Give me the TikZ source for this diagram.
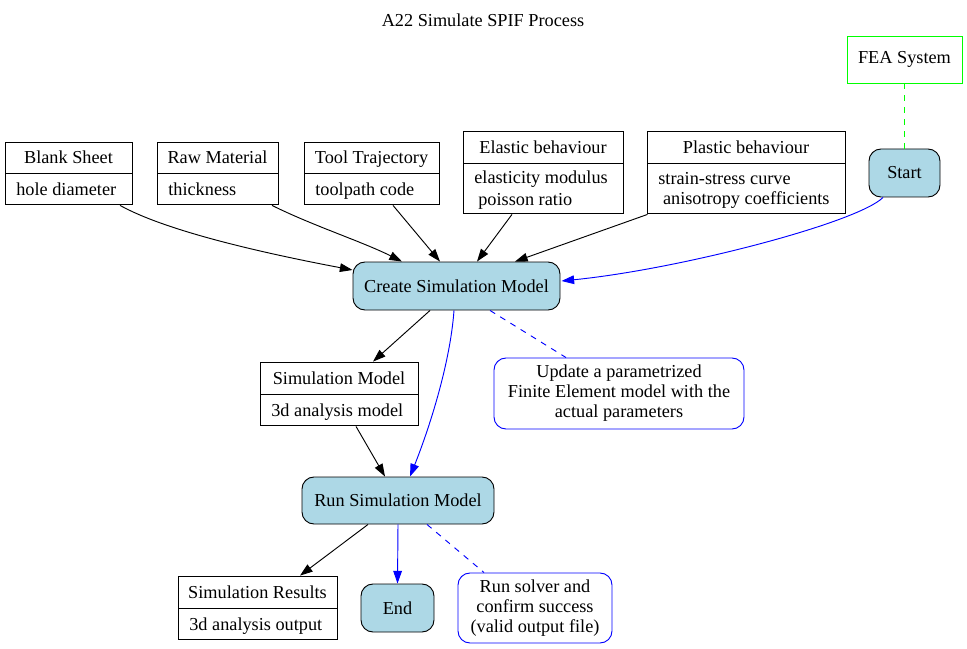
\documentclass[tikz,border=0pt]{standalone}
\usepackage{fontspec}
\setmainfont{Liberation Serif}
\usetikzlibrary{shapes.multipart,arrows.meta,calc}
\definecolor{lightblue}{RGB}{173,216,230}
\definecolor{feagreen}{RGB}{0,255,0}
\newcommand{\capstrut}{\rule[-2.9pt]{0pt}{15pt}}
\newcommand{\rechead}[3]{\parbox[c][#2][c]{#1}{\centering\capstrut #3}}
\newcommand{\recbody}[3]{\parbox[c][#2][c]{#1}{\leftskip=8.5pt\rightskip=0pt plus 1fil\parindent=0pt #3}}
\tikzset{
  proc/.style={draw, fill=lightblue, rounded corners=9pt, inner sep=0pt},
  rec/.style={draw, rectangle split, rectangle split parts=2, inner sep=0pt},
  note/.style={draw=blue, rounded corners=9pt, align=center, inner sep=0pt},
  flow/.style={-{Triangle[length=9.5pt,width=6.5pt]}},
  bflow/.style={flow, blue},
  link/.style={blue, dash pattern=on 4.5pt off 4.5pt}
}
\begin{document}
\begin{tikzpicture}[x=0.75pt,y=-0.75pt,line width=0.7pt,font=\fontsize{13.7}{15}\selectfont]
\useasboundingbox (0,0) rectangle (967,649);
\node (title) at (483,20) {A22 Simulate SPIF Process};

\node[draw=feagreen, minimum width=86.25pt, minimum height=35.25pt, inner sep=0pt] (fea) at (904.5,59.5) {FEA System};
\node[proc, minimum width=53.25pt, minimum height=36pt] (start) at (904.5,173) {Start};

\node[rec] (blank) at (68.5,173.5) {\rechead{95.25pt}{22.5pt}{Blank Sheet}\nodepart{two}\recbody{95.25pt}{23.25pt}{\capstrut hole diameter}};
\node[rec] (raw) at (217.5,173.5) {\rechead{90.75pt}{22.5pt}{Raw Material}\nodepart{two}\recbody{90.75pt}{23.25pt}{\capstrut thickness}};
\node[rec] (tool) at (371.5,173.5) {\rechead{101.25pt}{22.5pt}{Tool Trajectory}\nodepart{two}\recbody{101.25pt}{23.25pt}{\capstrut toolpath code}};
\node[rec] (elastic) at (543,172.5) {\rechead{120pt}{23.25pt}{Elastic behaviour}\nodepart{two}\recbody{120pt}{37.5pt}{\capstrut elasticity modulus\\\hspace*{3pt}\capstrut poisson ratio}};
\node[rec] (plastic) at (746,172.5) {\rechead{148.5pt}{23.25pt}{Plastic behaviour}\nodepart{two}\recbody{148.5pt}{37.5pt}{\capstrut strain-stress curve\\\hspace*{3.5pt}\capstrut anisotropy coefficients}};

\node[proc, minimum width=155.25pt, minimum height=36pt] (create) at (456.5,286) {Create Simulation Model};
\node[note, minimum width=187.5pt, minimum height=53.25pt] (update) at (619,393.5) {Update a parametrized\\Finite Element model with the\\actual parameters};
\node[rec] (simmodel) at (339,394) {\rechead{118.5pt}{23.25pt}{Simulation Model}\nodepart{two}\recbody{118.5pt}{23.25pt}{\capstrut 3d analysis model}};

\node[proc, minimum width=144pt, minimum height=35.25pt] (run) at (398,500.5) {Run Simulation Model};
\node[rec] (simres) at (257.5,608) {\rechead{119.25pt}{23.25pt}{Simulation Results}\nodepart{two}\recbody{119.25pt}{23.25pt}{\capstrut 3d analysis output}};
\node[proc, minimum width=54.75pt, minimum height=36pt] (finish) at (397.5,608) {End};
\node[note, minimum width=115.5pt, minimum height=52.5pt] (solver) at (535,608) {Run solver and\\confirm success\\(valid output file)};

\draw[feagreen, dash pattern=on 4.5pt off 4.5pt] (fea.south) -- (start.north);
\draw[flow] ($(blank.south)+(51.5,0)$) .. controls +(45,25) and +(-95,-18) .. ($(create.west)+(0,-16)$);
\draw[flow] ($(raw.south)+(54.5,0)$) .. controls +(40,20) and +(-40,-20) .. ($(create.north)+(-54.5,0)$);
\draw[flow] ($(tool.south)+(21.5,0)$) -- ($(create.north)+(-16.5,0)$);
\draw[flow] ($(elastic.south)+(-31,0)$) -- ($(create.north)+(20.5,0)$);
\draw[flow] ($(plastic.south west)+(1,0)$) -- ($(create.north)+(58.5,0)$);
\draw[bflow] ($(start.south)+(-21.5,0)$) .. controls +(-25,25) and +(120,-12) .. ($(create.east)+(1,-5)$);

\draw[flow] ($(create.south)+(-26.5,0)$) -- ($(simmodel.north)+(34,0)$);
\draw[bflow] ($(create.south)+(-2.5,0)$) .. controls +(-4,55) and +(18,-45) .. ($(run.north)+(12,0)$);
\draw[link] ($(create.south)+(33.5,0)$) -- ($(update.north)+(-53,0)$);
\draw[flow] ($(simmodel.south)+(17,0)$) -- ($(run.north)+(-13,0)$);

\draw[flow] ($(run.south)+(-30,0)$) -- ($(simres.north)+(42.5,0)$);
\draw[bflow] (run.south) -- (finish.north);
\draw[link] ($(run.south)+(29,0)$) -- ($(solver.north)+(-51,0)$);
\end{tikzpicture}
\end{document}
